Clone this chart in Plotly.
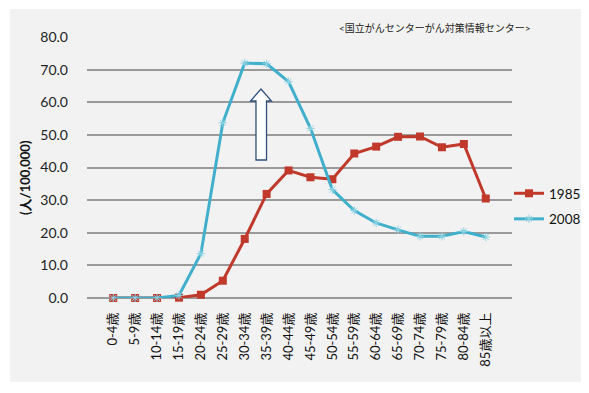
import plotly.graph_objects as go

categories = ["0-4歳", "5-9歳", "10-14歳", "15-19歳", "20-24歳", "25-29歳", "30-34歳",
              "35-39歳", "40-44歳", "45-49歳", "50-54歳", "55-59歳", "60-64歳", "65-69歳",
              "70-74歳", "75-79歳", "80-84歳", "85歳以上"]
rate_1985 = [0.0, 0.0, 0.0, 0.1, 1.0, 5.3, 18.1, 31.9, 39.1, 37.0, 36.4, 44.3,
             46.4, 49.4, 49.5, 46.2, 47.2, 30.5]
rate_2008 = [0.0, 0.0, 0.0, 0.8, 13.6, 53.7, 72.0, 71.8, 66.3, 52.0, 33.2, 26.8,
             23.0, 20.9, 18.9, 18.9, 20.4, 18.7]
y_ticks = [0, 10, 20, 30, 40, 50, 60, 70, 80]
y_ticktext = [f"{v:.1f}" for v in y_ticks]

FONT = "Lato, 'Noto Sans CJK JP', sans-serif"
OFF = 8  # default page body margin of the HTML page
W, H = 589 - OFF, 393 - OFF
L, T = 87 - OFF, 37 - OFF
R = W - (512 - OFF)
B = H - (298 - OFF)
pw, ph = W - L - R, H - T - B

def px(x):
    # reference-picture x pixel -> paper coordinate
    return (x - OFF - L) / pw

def py(y):
    # reference-picture y pixel -> paper coordinate
    return (H - B - (y - OFF)) / ph

fig = go.Figure()
fig.add_trace(go.Scatter(
    x=categories, y=rate_1985, name="1985", mode="lines+markers", legendgroup="a",
    line=dict(color="#C0392B", width=3),
    marker=dict(symbol="square", size=8, color="#C0392B"),
    cliponaxis=False))
fig.add_trace(go.Scatter(
    x=categories, y=rate_2008, name="2008", mode="lines+markers", legendgroup="b",
    line=dict(color="#3FAFCB", width=3),
    marker=dict(symbol="asterisk-open", size=7, color="#8ED3E4",
                line=dict(width=1, color="#8ED3E4")),
    cliponaxis=False))

shapes = [
    # light gray panel
    dict(type="rect", xref="paper", yref="paper", layer="below",
         x0=px(10), x1=px(581), y0=py(382), y1=py(9),
         fillcolor="#F2F2F2", line=dict(width=0)),
    # hollow up arrow
    dict(type="path", xref="paper", yref="paper", layer="above",
         path=(f"M {px(256):.4f},{py(160):.4f} L {px(266.5):.4f},{py(160):.4f} "
               f"L {px(266.5):.4f},{py(101):.4f} L {px(271.5):.4f},{py(101):.4f} "
               f"L {px(261):.4f},{py(89):.4f} L {px(250.5):.4f},{py(101):.4f} "
               f"L {px(256):.4f},{py(101):.4f} Z"),
         fillcolor="white", line=dict(color="#2F4F7F", width=1.3)),
]

annotations = [
    dict(text="<国立がんセンターがん対策情報センター>", xref="paper", yref="paper",
         x=px(533), y=py(28), xanchor="right", yanchor="middle", showarrow=False,
         font=dict(family=FONT, size=10, color="#222")),
    dict(text="<b>(人/100,000)</b>", xref="paper", yref="paper",
         x=px(25), y=py(178), xanchor="center", yanchor="middle", showarrow=False,
         textangle=-90, font=dict(family=FONT, size=13, color="#111")),
]

fig.update_layout(
    width=W, height=H,
    margin=dict(l=L, r=R, t=T, b=B, autoexpand=False),
    paper_bgcolor="white", plot_bgcolor="rgba(0,0,0,0)",
    font=dict(family=FONT, color="#222"),
    showlegend=True,
    legend=dict(xref="container", yref="container",
                x=(509 - OFF) / W, y=1 - (178 - OFF) / H, xanchor="left", yanchor="top",
                bgcolor="rgba(0,0,0,0)", font=dict(family=FONT, size=13.5, color="#111"),
                itemwidth=30, tracegroupgap=5),
    shapes=shapes, annotations=annotations,
    xaxis=dict(type="category", tickangle=-90, showgrid=False, showline=False,
               ticks="", automargin=False, ticklabelstandoff=11,
               tickfont=dict(family=FONT, size=13, color="#111")),
    yaxis=dict(range=[0, 80], tickvals=y_ticks, ticktext=y_ticktext,
               showgrid=True, gridcolor="#9A9A9A", gridwidth=1.5,
               zeroline=True, zerolinecolor="#9A9A9A", zerolinewidth=1.5,
               showline=False, ticks="", ticklabelstandoff=18, automargin=False,
               tickfont=dict(family=FONT, size=14, color="#222")),
)

fig.write_html("out.html")
